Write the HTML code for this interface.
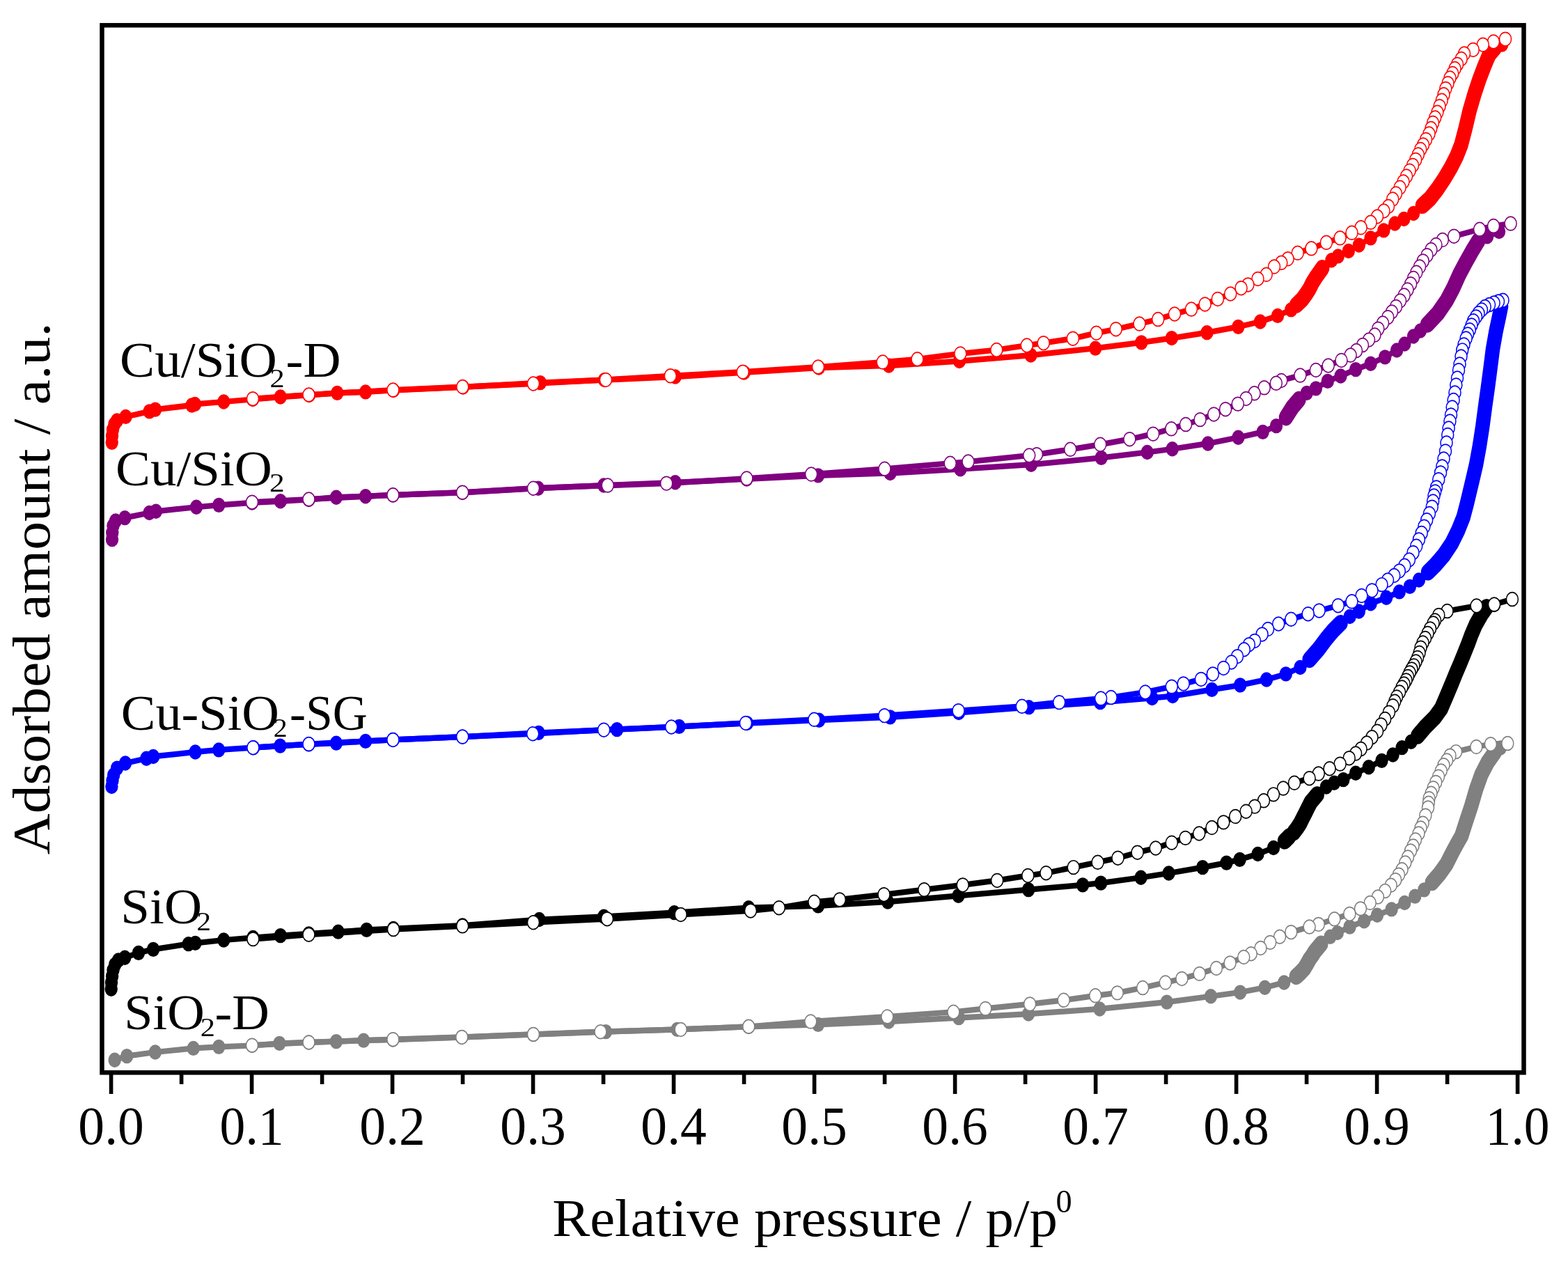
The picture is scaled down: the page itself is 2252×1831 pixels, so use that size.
<!DOCTYPE html>
<html><head><meta charset="utf-8"><title>Adsorption isotherms</title>
<style>html,body{margin:0;padding:0;background:#fff;overflow:hidden}svg{display:block}</style>
</head><body>
<svg width="2252" height="1831" viewBox="0 0 2252 1831">
<rect width="2252" height="1831" fill="#fff"/>
<g transform="scale(1 1.16)">
<polyline points="164.7,1312.3 182.2,1307.4 222.9,1302.6 277.7,1297.8 314.3,1296 362,1294.4 401.4,1291.7 443.5,1290.5 482.9,1289.3 522.2,1288.1 564.4,1287.1 663.3,1284.1 766,1280.7 870,1277.3 972.6,1274.5 1075.2,1271.1 1175,1268.4 1276.5,1264.7 1377,1260 1477.1,1255.2 1579.4,1249.1 1675.8,1240.6 1739,1233.4 1781.2,1228.5 1816.6,1222.6 1844.2,1216.4 1861.8,1208.9 1867.5,1204.3 1873.1,1199.2 1877,1193.5 1880.6,1187.9 1884.5,1183.2 1888.1,1178.2 1897.4,1168.5 1910.5,1159.7 1920.8,1154.8 1938.6,1147.5 1959.2,1140.3 1978,1133 1998.6,1125.8 2017.3,1117.7 2032.3,1109.6 2045.4,1101.6 2056.7,1092.6 2067.9,1081.3 2077.3,1070 2086,1055.2 2093,1044 2099,1034.9 2105.4,1017.7 2112.9,998.3 2120.2,976.7 2127.7,958.6 2136.4,944 2147,931 2155,925.9" fill="none" stroke="#808080" stroke-width="7.1" stroke-linejoin="round" stroke-linecap="round"/>
<polyline points="1861.8,1208.9 1867.5,1204.3 1873.1,1199.2 1877,1193.5 1880.6,1187.9 1884.5,1183.2 1888.1,1178.2 1897.4,1168.5" fill="none" stroke="#808080" stroke-width="20.5" stroke-linejoin="round" stroke-linecap="round"/>
<polyline points="2056.7,1092.6 2067.9,1081.3 2077.3,1070 2086,1055.2 2093,1044 2099,1034.9 2105.4,1017.7 2112.9,998.3 2120.2,976.7 2127.7,958.6 2136.4,944 2147,931" fill="none" stroke="#808080" stroke-width="20.5" stroke-linejoin="round" stroke-linecap="round"/>
<g fill="#808080"><circle cx="164.7" cy="1312.3" r="9.2"/><circle cx="182.2" cy="1307.4" r="9.2"/><circle cx="222.9" cy="1302.6" r="9.2"/><circle cx="277.7" cy="1297.8" r="9.2"/><circle cx="314.3" cy="1296" r="9.2"/><circle cx="362" cy="1294.4" r="9.2"/><circle cx="401.4" cy="1291.7" r="9.2"/><circle cx="443.5" cy="1290.5" r="9.2"/><circle cx="482.9" cy="1289.3" r="9.2"/><circle cx="522.2" cy="1288.1" r="9.2"/><circle cx="564.4" cy="1287.1" r="9.2"/><circle cx="663.3" cy="1284.1" r="9.2"/><circle cx="766" cy="1280.7" r="9.2"/><circle cx="870" cy="1277.3" r="9.2"/><circle cx="972.6" cy="1274.5" r="9.2"/><circle cx="1075.2" cy="1271.1" r="9.2"/><circle cx="1175" cy="1268.4" r="9.2"/><circle cx="1276.5" cy="1264.7" r="9.2"/><circle cx="1377" cy="1260" r="9.2"/><circle cx="1477.1" cy="1255.2" r="9.2"/><circle cx="1579.4" cy="1249.1" r="9.2"/><circle cx="1675.8" cy="1240.6" r="9.2"/><circle cx="1739" cy="1233.4" r="9.2"/><circle cx="1781.2" cy="1228.5" r="9.2"/><circle cx="1816.6" cy="1222.6" r="9.2"/><circle cx="1844.2" cy="1216.4" r="9.2"/><circle cx="1861.8" cy="1208.9" r="9.2"/><circle cx="1867.5" cy="1204.3" r="9.2"/><circle cx="1873.1" cy="1199.2" r="9.2"/><circle cx="1877" cy="1193.5" r="9.2"/><circle cx="1880.6" cy="1187.9" r="9.2"/><circle cx="1884.5" cy="1183.2" r="9.2"/><circle cx="1888.1" cy="1178.2" r="9.2"/><circle cx="1892.8" cy="1173.4" r="9.2"/><circle cx="1897.4" cy="1168.5" r="9.2"/><circle cx="1910.5" cy="1159.7" r="9.2"/><circle cx="1920.8" cy="1154.8" r="9.2"/><circle cx="1938.6" cy="1147.5" r="9.2"/><circle cx="1959.2" cy="1140.3" r="9.2"/><circle cx="1978" cy="1133" r="9.2"/><circle cx="1998.6" cy="1125.8" r="9.2"/><circle cx="2017.3" cy="1117.7" r="9.2"/><circle cx="2032.3" cy="1109.6" r="9.2"/><circle cx="2045.4" cy="1101.6" r="9.2"/><circle cx="2056.7" cy="1092.6" r="9.2"/><circle cx="2062.3" cy="1086.9" r="9.2"/><circle cx="2067.9" cy="1081.3" r="9.2"/><circle cx="2072.6" cy="1075.6" r="9.2"/><circle cx="2077.3" cy="1070" r="9.2"/><circle cx="2081.7" cy="1062.6" r="9.2"/><circle cx="2086" cy="1055.2" r="9.2"/><circle cx="2089.5" cy="1049.6" r="9.2"/><circle cx="2093" cy="1044" r="9.2"/><circle cx="2096" cy="1039.4" r="9.2"/><circle cx="2099" cy="1034.9" r="9.2"/><circle cx="2101.1" cy="1029.2" r="9.2"/><circle cx="2103.3" cy="1023.4" r="9.2"/><circle cx="2105.4" cy="1017.7" r="9.2"/><circle cx="2107.9" cy="1011.2" r="9.2"/><circle cx="2110.4" cy="1004.7" r="9.2"/><circle cx="2112.9" cy="998.3" r="9.2"/><circle cx="2115.3" cy="991.1" r="9.2"/><circle cx="2117.8" cy="983.9" r="9.2"/><circle cx="2120.2" cy="976.7" r="9.2"/><circle cx="2122.7" cy="970.7" r="9.2"/><circle cx="2125.2" cy="964.7" r="9.2"/><circle cx="2127.7" cy="958.6" r="9.2"/><circle cx="2132.1" cy="951.3" r="9.2"/><circle cx="2136.4" cy="944" r="9.2"/><circle cx="2141.7" cy="937.5" r="9.2"/><circle cx="2147" cy="931" r="9.2"/><circle cx="2155" cy="925.9" r="9.2"/></g>
<polyline points="362,1294.1 443.5,1290.5 564.4,1286.8 663.3,1284 766,1280.5 862.5,1277.3 977.7,1274.5 1075.3,1270.9 1164.3,1264.7 1274.3,1258.7 1369.4,1252.8 1415.3,1248.6 1479.1,1243 1527.7,1238.2 1573.2,1232.6 1604.7,1229.2 1641.2,1222.9 1673.8,1216.4 1697.4,1211.6 1722.7,1205.5 1746.9,1198.7 1766.6,1192.2 1786.3,1184.9 1796.7,1180.8 1810.5,1173.7 1824.2,1166.7 1838,1159.7 1854.3,1154 1880.6,1147.5 1893.7,1144.3 1916.5,1137.8 1938.3,1131.4 1954,1124.9 1967.7,1117.7 1978.9,1110.4 1989.2,1103.1 1997.7,1095.9 2004.2,1089.4 2008.9,1082.9 2013.6,1076.5 2018.3,1068.1 2022,1061.2 2026,1053.4 2029.5,1047.4 2033,1039.7 2037.5,1031.9 2040.5,1025 2043.6,1019.2 2047.3,1009.6 2051,999.9 2052.5,988.5 2055.5,982.1 2058.5,975.6 2062.2,968.5 2066,961.4 2069.7,954.3 2073.5,947.2 2078,941.4 2082.5,935.5 2091.1,930.7 2120.3,924.6 2140.9,921.3 2165.3,920.3" fill="none" stroke="#808080" stroke-width="7.1" stroke-linejoin="round" stroke-linecap="round"/>
<g fill="#fff" stroke="#808080" stroke-width="1.5"><circle cx="2165.3" cy="920.3" r="8.5"/><circle cx="2140.9" cy="921.3" r="8.5"/><circle cx="2120.3" cy="924.6" r="8.5"/><circle cx="2091.1" cy="930.7" r="8.5"/><circle cx="2082.5" cy="935.5" r="8.5"/><circle cx="2078" cy="941.4" r="8.5"/><circle cx="2073.5" cy="947.2" r="8.5"/><circle cx="2069.7" cy="954.3" r="8.5"/><circle cx="2066" cy="961.4" r="8.5"/><circle cx="2062.2" cy="968.5" r="8.5"/><circle cx="2058.5" cy="975.6" r="8.5"/><circle cx="2055.5" cy="982.1" r="8.5"/><circle cx="2052.5" cy="988.5" r="8.5"/><circle cx="2051.8" cy="994.2" r="8.5"/><circle cx="2051" cy="999.9" r="8.5"/><circle cx="2047.3" cy="1009.6" r="8.5"/><circle cx="2043.6" cy="1019.2" r="8.5"/><circle cx="2040.5" cy="1025" r="8.5"/><circle cx="2037.5" cy="1031.9" r="8.5"/><circle cx="2033" cy="1039.7" r="8.5"/><circle cx="2029.5" cy="1047.4" r="8.5"/><circle cx="2026" cy="1053.4" r="8.5"/><circle cx="2022" cy="1061.2" r="8.5"/><circle cx="2018.3" cy="1068.1" r="8.5"/><circle cx="2013.6" cy="1076.5" r="8.5"/><circle cx="2008.9" cy="1082.9" r="8.5"/><circle cx="2004.2" cy="1089.4" r="8.5"/><circle cx="1997.7" cy="1095.9" r="8.5"/><circle cx="1989.2" cy="1103.1" r="8.5"/><circle cx="1978.9" cy="1110.4" r="8.5"/><circle cx="1967.7" cy="1117.7" r="8.5"/><circle cx="1954" cy="1124.9" r="8.5"/><circle cx="1938.3" cy="1131.4" r="8.5"/><circle cx="1916.5" cy="1137.8" r="8.5"/><circle cx="1893.7" cy="1144.3" r="8.5"/><circle cx="1880.6" cy="1147.5" r="8.5"/><circle cx="1854.3" cy="1154" r="8.5"/><circle cx="1838" cy="1159.7" r="8.5"/><circle cx="1824.2" cy="1166.7" r="8.5"/><circle cx="1810.5" cy="1173.7" r="8.5"/><circle cx="1796.7" cy="1180.8" r="8.5"/><circle cx="1786.3" cy="1184.9" r="8.5"/><circle cx="1766.6" cy="1192.2" r="8.5"/><circle cx="1746.9" cy="1198.7" r="8.5"/><circle cx="1722.7" cy="1205.5" r="8.5"/><circle cx="1697.4" cy="1211.6" r="8.5"/><circle cx="1673.8" cy="1216.4" r="8.5"/><circle cx="1641.2" cy="1222.9" r="8.5"/><circle cx="1604.7" cy="1229.2" r="8.5"/><circle cx="1573.2" cy="1232.6" r="8.5"/><circle cx="1527.7" cy="1238.2" r="8.5"/><circle cx="1479.1" cy="1243" r="8.5"/><circle cx="1415.3" cy="1248.6" r="8.5"/><circle cx="1369.4" cy="1252.8" r="8.5"/><circle cx="1274.3" cy="1258.7" r="8.5"/><circle cx="1164.3" cy="1264.7" r="8.5"/><circle cx="1075.3" cy="1270.9" r="8.5"/><circle cx="977.7" cy="1274.5" r="8.5"/><circle cx="862.5" cy="1277.3" r="8.5"/><circle cx="766" cy="1280.5" r="8.5"/><circle cx="663.3" cy="1284" r="8.5"/><circle cx="564.4" cy="1286.8" r="8.5"/><circle cx="443.5" cy="1290.5" r="8.5"/><circle cx="362" cy="1294.1" r="8.5"/></g>
<polyline points="159.7,1224.4 160,1216.4 161.1,1208.6 162.5,1200.9 165.3,1194.1 170,1188.8 179.3,1185.6 199,1179.6 220.1,1175.3 270.7,1168.7 280.5,1167.5 321.3,1163.8 363.4,1160.8 402.8,1158.3 443.5,1156 485.7,1153.6 526.5,1151.2 565,1149.6 664.2,1145.7 774.5,1138.4 867.2,1134.7 968.4,1129.9 1075.2,1123.9 1175,1121.5 1275,1116.4 1376.5,1108.9 1477.1,1101.4 1555,1095.6 1581.1,1093.2 1638.6,1086.4 1678.6,1081 1727.2,1073.8 1761.5,1068.2 1780.6,1064.1 1806.5,1057.3 1829,1049.6 1845,1041.2 1852,1035.3 1858.1,1030.6 1863,1025 1867.4,1019.2 1871,1012.9 1874.9,1006.4 1878.5,1000 1882.4,993.4 1891.8,983.7 1904.9,974.1 1916.2,969.2 1929.3,965.2 1947.1,957.1 1965.8,949.8 1984.5,941.7 2000.5,934.5 2013.6,925.6 2026.7,918.3 2036.1,911 2047.3,899.7 2060.4,888.4 2069.8,877.2 2077,862.9 2084.5,847.4 2091,833.6 2097,821.6 2103,808.8 2108.5,797 2113.5,785.3 2119.5,773.3 2128,760.3 2135,751.7 2146,748.7" fill="none" stroke="#000000" stroke-width="7.1" stroke-linejoin="round" stroke-linecap="round"/>
<polyline points="1845,1041.2 1852,1035.3" fill="none" stroke="#000000" stroke-width="20.5" stroke-linejoin="round" stroke-linecap="round"/>
<polyline points="1858.1,1030.6 1863,1025 1867.4,1019.2 1871,1012.9 1874.9,1006.4 1878.5,1000 1882.4,993.4 1891.8,983.7" fill="none" stroke="#000000" stroke-width="20.5" stroke-linejoin="round" stroke-linecap="round"/>
<polyline points="2036.1,911 2047.3,899.7 2060.4,888.4 2069.8,877.2 2077,862.9 2084.5,847.4 2091,833.6 2097,821.6 2103,808.8 2108.5,797 2113.5,785.3 2119.5,773.3 2128,760.3 2135,751.7" fill="none" stroke="#000000" stroke-width="20.5" stroke-linejoin="round" stroke-linecap="round"/>
<g fill="#000000"><circle cx="159.7" cy="1224.4" r="9.2"/><circle cx="160" cy="1216.4" r="9.2"/><circle cx="161.1" cy="1208.6" r="9.2"/><circle cx="162.5" cy="1200.9" r="9.2"/><circle cx="165.3" cy="1194.1" r="9.2"/><circle cx="170" cy="1188.8" r="9.2"/><circle cx="179.3" cy="1185.6" r="9.2"/><circle cx="199" cy="1179.6" r="9.2"/><circle cx="220.1" cy="1175.3" r="9.2"/><circle cx="270.7" cy="1168.7" r="9.2"/><circle cx="280.5" cy="1167.5" r="9.2"/><circle cx="321.3" cy="1163.8" r="9.2"/><circle cx="363.4" cy="1160.8" r="9.2"/><circle cx="402.8" cy="1158.3" r="9.2"/><circle cx="443.5" cy="1156" r="9.2"/><circle cx="485.7" cy="1153.6" r="9.2"/><circle cx="526.5" cy="1151.2" r="9.2"/><circle cx="565" cy="1149.6" r="9.2"/><circle cx="664.2" cy="1145.7" r="9.2"/><circle cx="774.5" cy="1138.4" r="9.2"/><circle cx="867.2" cy="1134.7" r="9.2"/><circle cx="968.4" cy="1129.9" r="9.2"/><circle cx="1075.2" cy="1123.9" r="9.2"/><circle cx="1175" cy="1121.5" r="9.2"/><circle cx="1275" cy="1116.4" r="9.2"/><circle cx="1376.5" cy="1108.9" r="9.2"/><circle cx="1477.1" cy="1101.4" r="9.2"/><circle cx="1555" cy="1095.6" r="9.2"/><circle cx="1581.1" cy="1093.2" r="9.2"/><circle cx="1638.6" cy="1086.4" r="9.2"/><circle cx="1678.6" cy="1081" r="9.2"/><circle cx="1727.2" cy="1073.8" r="9.2"/><circle cx="1761.5" cy="1068.2" r="9.2"/><circle cx="1780.6" cy="1064.1" r="9.2"/><circle cx="1806.5" cy="1057.3" r="9.2"/><circle cx="1829" cy="1049.6" r="9.2"/><circle cx="1845" cy="1041.2" r="9.2"/><circle cx="1852" cy="1035.3" r="9.2"/><circle cx="1858.1" cy="1030.6" r="9.2"/><circle cx="1863" cy="1025" r="9.2"/><circle cx="1867.4" cy="1019.2" r="9.2"/><circle cx="1871" cy="1012.9" r="9.2"/><circle cx="1874.9" cy="1006.4" r="9.2"/><circle cx="1878.5" cy="1000" r="9.2"/><circle cx="1882.4" cy="993.4" r="9.2"/><circle cx="1887.1" cy="988.6" r="9.2"/><circle cx="1891.8" cy="983.7" r="9.2"/><circle cx="1904.9" cy="974.1" r="9.2"/><circle cx="1916.2" cy="969.2" r="9.2"/><circle cx="1929.3" cy="965.2" r="9.2"/><circle cx="1947.1" cy="957.1" r="9.2"/><circle cx="1965.8" cy="949.8" r="9.2"/><circle cx="1984.5" cy="941.7" r="9.2"/><circle cx="2000.5" cy="934.5" r="9.2"/><circle cx="2013.6" cy="925.6" r="9.2"/><circle cx="2026.7" cy="918.3" r="9.2"/><circle cx="2036.1" cy="911" r="9.2"/><circle cx="2041.7" cy="905.4" r="9.2"/><circle cx="2047.3" cy="899.7" r="9.2"/><circle cx="2053.8" cy="894.1" r="9.2"/><circle cx="2060.4" cy="888.4" r="9.2"/><circle cx="2065.1" cy="882.8" r="9.2"/><circle cx="2069.8" cy="877.2" r="9.2"/><circle cx="2073.4" cy="870" r="9.2"/><circle cx="2077" cy="862.9" r="9.2"/><circle cx="2080.8" cy="855.2" r="9.2"/><circle cx="2084.5" cy="847.4" r="9.2"/><circle cx="2087.8" cy="840.5" r="9.2"/><circle cx="2091" cy="833.6" r="9.2"/><circle cx="2094" cy="827.6" r="9.2"/><circle cx="2097" cy="821.6" r="9.2"/><circle cx="2100" cy="815.2" r="9.2"/><circle cx="2103" cy="808.8" r="9.2"/><circle cx="2105.8" cy="802.9" r="9.2"/><circle cx="2108.5" cy="797" r="9.2"/><circle cx="2111" cy="791.2" r="9.2"/><circle cx="2113.5" cy="785.3" r="9.2"/><circle cx="2116.5" cy="779.3" r="9.2"/><circle cx="2119.5" cy="773.3" r="9.2"/><circle cx="2123.8" cy="766.8" r="9.2"/><circle cx="2128" cy="760.3" r="9.2"/><circle cx="2131.5" cy="756" r="9.2"/><circle cx="2135" cy="751.7" r="9.2"/><circle cx="2146" cy="748.7" r="9.2"/></g>
<polyline points="363.4,1162.6 443.5,1157.1 565,1150.5 664.2,1146.4 766,1142 872,1137.7 977.7,1132.3 1078,1127.5 1118.8,1123.9 1169.4,1116.6 1205.9,1113.7 1269.5,1107.5 1327.3,1101.4 1382.7,1095.6 1432.1,1090 1476.3,1084 1502.4,1080.8 1541.7,1073.8 1576.6,1067.5 1605.5,1062.2 1633.6,1055.3 1659.8,1050 1682.8,1043.3 1702.5,1037.4 1722.2,1031.9 1740.5,1024.6 1757.3,1018 1774.2,1010.8 1789.6,1004.5 1802.1,998.4 1815,991.2 1829,983.5 1843,975.9 1859,969.2 1880.6,963.5 1893.7,957.8 1909.6,951.5 1924.6,945.8 1937.7,938.5 1947.1,932.8 1954.6,927.2 1963,919.9 1970.5,912.7 1978,905.4 1983.6,897.3 1989.2,890.1 1994.9,882 2000.5,873.9 2006,862.9 2010,856.9 2013.5,850.9 2016.5,846.6 2019.5,842.2 2022,837.5 2024.6,832.8 2027.5,828.4 2030.5,824.1 2033.5,819 2036,814.2 2038.5,808.2 2040.5,801.9 2043.5,795.7 2047,790.1 2050.5,784.1 2054,778.4 2058.5,771.6 2061,768.1 2066.3,761.6 2078.5,756.5 2120.6,750 2146,748.3 2171.9,741.9" fill="none" stroke="#000000" stroke-width="7.1" stroke-linejoin="round" stroke-linecap="round"/>
<g fill="#fff" stroke="#000000" stroke-width="1.5"><circle cx="2171.9" cy="741.9" r="8.5"/><circle cx="2146" cy="748.3" r="8.5"/><circle cx="2120.6" cy="750" r="8.5"/><circle cx="2078.5" cy="756.5" r="8.5"/><circle cx="2066.3" cy="761.6" r="8.5"/><circle cx="2061" cy="768.1" r="8.5"/><circle cx="2058.5" cy="771.6" r="8.5"/><circle cx="2054" cy="778.4" r="8.5"/><circle cx="2050.5" cy="784.1" r="8.5"/><circle cx="2047" cy="790.1" r="8.5"/><circle cx="2043.5" cy="795.7" r="8.5"/><circle cx="2040.5" cy="801.9" r="8.5"/><circle cx="2038.5" cy="808.2" r="8.5"/><circle cx="2036" cy="814.2" r="8.5"/><circle cx="2033.5" cy="819" r="8.5"/><circle cx="2030.5" cy="824.1" r="8.5"/><circle cx="2027.5" cy="828.4" r="8.5"/><circle cx="2024.6" cy="832.8" r="8.5"/><circle cx="2022" cy="837.5" r="8.5"/><circle cx="2019.5" cy="842.2" r="8.5"/><circle cx="2016.5" cy="846.6" r="8.5"/><circle cx="2013.5" cy="850.9" r="8.5"/><circle cx="2010" cy="856.9" r="8.5"/><circle cx="2006" cy="862.9" r="8.5"/><circle cx="2003.2" cy="868.4" r="8.5"/><circle cx="2000.5" cy="873.9" r="8.5"/><circle cx="1994.9" cy="882" r="8.5"/><circle cx="1989.2" cy="890.1" r="8.5"/><circle cx="1983.6" cy="897.3" r="8.5"/><circle cx="1978" cy="905.4" r="8.5"/><circle cx="1970.5" cy="912.7" r="8.5"/><circle cx="1963" cy="919.9" r="8.5"/><circle cx="1954.6" cy="927.2" r="8.5"/><circle cx="1947.1" cy="932.8" r="8.5"/><circle cx="1937.7" cy="938.5" r="8.5"/><circle cx="1924.6" cy="945.8" r="8.5"/><circle cx="1909.6" cy="951.5" r="8.5"/><circle cx="1893.7" cy="957.8" r="8.5"/><circle cx="1880.6" cy="963.5" r="8.5"/><circle cx="1859" cy="969.2" r="8.5"/><circle cx="1843" cy="975.9" r="8.5"/><circle cx="1829" cy="983.5" r="8.5"/><circle cx="1815" cy="991.2" r="8.5"/><circle cx="1802.1" cy="998.4" r="8.5"/><circle cx="1789.6" cy="1004.5" r="8.5"/><circle cx="1774.2" cy="1010.8" r="8.5"/><circle cx="1757.3" cy="1018" r="8.5"/><circle cx="1740.5" cy="1024.6" r="8.5"/><circle cx="1722.2" cy="1031.9" r="8.5"/><circle cx="1702.5" cy="1037.4" r="8.5"/><circle cx="1682.8" cy="1043.3" r="8.5"/><circle cx="1659.8" cy="1050" r="8.5"/><circle cx="1633.6" cy="1055.3" r="8.5"/><circle cx="1605.5" cy="1062.2" r="8.5"/><circle cx="1576.6" cy="1067.5" r="8.5"/><circle cx="1541.7" cy="1073.8" r="8.5"/><circle cx="1502.4" cy="1080.8" r="8.5"/><circle cx="1476.3" cy="1084" r="8.5"/><circle cx="1432.1" cy="1090" r="8.5"/><circle cx="1382.7" cy="1095.6" r="8.5"/><circle cx="1327.3" cy="1101.4" r="8.5"/><circle cx="1269.5" cy="1107.5" r="8.5"/><circle cx="1205.9" cy="1113.7" r="8.5"/><circle cx="1169.4" cy="1116.6" r="8.5"/><circle cx="1118.8" cy="1123.9" r="8.5"/><circle cx="1078" cy="1127.5" r="8.5"/><circle cx="977.7" cy="1132.3" r="8.5"/><circle cx="872" cy="1137.7" r="8.5"/><circle cx="766" cy="1142" r="8.5"/><circle cx="664.2" cy="1146.4" r="8.5"/><circle cx="565" cy="1150.5" r="8.5"/><circle cx="443.5" cy="1157.1" r="8.5"/><circle cx="363.4" cy="1162.6" r="8.5"/></g>
<polyline points="160.4,973.7 161.5,966.4 163.2,959.5 168.1,951 180,944.8 210.3,939 220.1,936.6 280.5,931 314.2,928.4 364,925.6 402.4,923.4 443.5,921.4 482.9,920 525,917.6 564.4,915.9 664.2,912.2 773.6,907.2 886.1,903.1 975.4,899.5 1073,895.3 1176.4,891.6 1278.5,887.8 1377,882.3 1477.7,875.6 1580.2,869.5 1654.7,864.2 1684.2,861.7 1740.5,853.8 1781.2,848.2 1819,841.4 1846.8,834.4 1867.4,826.3 1880.6,816.6 1893.7,803.7 1904.9,790.8 1914.3,781.1 1925.5,771.4 1938.6,763.4 1951.8,756.9 1968.6,747.2 1991.1,739.9 2009.8,732.7 2024.8,726.2 2037.9,718.1 2051,708.4 2062.3,698.7 2073.5,687.4 2084.8,672.9 2094.1,656.7 2101.6,640.6 2106.5,624.5 2109.5,613.8 2114.5,595.7 2120,575.3 2125,551.7 2129.3,527.6 2133,503.4 2136.8,480.2 2140.5,456 2144,432.2 2148.5,410.3 2153,392.2 2156,379.3" fill="none" stroke="#0000ff" stroke-width="7.1" stroke-linejoin="round" stroke-linecap="round"/>
<polyline points="1880.6,816.6 1893.7,803.7 1904.9,790.8 1914.3,781.1 1925.5,771.4" fill="none" stroke="#0000ff" stroke-width="20.5" stroke-linejoin="round" stroke-linecap="round"/>
<polyline points="2051,708.4 2062.3,698.7 2073.5,687.4 2084.8,672.9 2094.1,656.7 2101.6,640.6 2106.5,624.5 2109.5,613.8 2114.5,595.7 2120,575.3 2125,551.7 2129.3,527.6 2133,503.4 2136.8,480.2 2140.5,456 2144,432.2 2148.5,410.3 2153,392.2 2156,379.3" fill="none" stroke="#0000ff" stroke-width="20.5" stroke-linejoin="round" stroke-linecap="round"/>
<g fill="#0000ff"><circle cx="160.4" cy="973.7" r="9.2"/><circle cx="161.5" cy="966.4" r="9.2"/><circle cx="163.2" cy="959.5" r="9.2"/><circle cx="168.1" cy="951" r="9.2"/><circle cx="180" cy="944.8" r="9.2"/><circle cx="210.3" cy="939" r="9.2"/><circle cx="220.1" cy="936.6" r="9.2"/><circle cx="280.5" cy="931" r="9.2"/><circle cx="314.2" cy="928.4" r="9.2"/><circle cx="364" cy="925.6" r="9.2"/><circle cx="402.4" cy="923.4" r="9.2"/><circle cx="443.5" cy="921.4" r="9.2"/><circle cx="482.9" cy="920" r="9.2"/><circle cx="525" cy="917.6" r="9.2"/><circle cx="564.4" cy="915.9" r="9.2"/><circle cx="664.2" cy="912.2" r="9.2"/><circle cx="773.6" cy="907.2" r="9.2"/><circle cx="886.1" cy="903.1" r="9.2"/><circle cx="975.4" cy="899.5" r="9.2"/><circle cx="1073" cy="895.3" r="9.2"/><circle cx="1176.4" cy="891.6" r="9.2"/><circle cx="1278.5" cy="887.8" r="9.2"/><circle cx="1377" cy="882.3" r="9.2"/><circle cx="1477.7" cy="875.6" r="9.2"/><circle cx="1580.2" cy="869.5" r="9.2"/><circle cx="1654.7" cy="864.2" r="9.2"/><circle cx="1684.2" cy="861.7" r="9.2"/><circle cx="1740.5" cy="853.8" r="9.2"/><circle cx="1781.2" cy="848.2" r="9.2"/><circle cx="1819" cy="841.4" r="9.2"/><circle cx="1846.8" cy="834.4" r="9.2"/><circle cx="1867.4" cy="826.3" r="9.2"/><circle cx="1880.6" cy="816.6" r="9.2"/><circle cx="1885" cy="812.3" r="9.2"/><circle cx="1889.3" cy="808" r="9.2"/><circle cx="1893.7" cy="803.7" r="9.2"/><circle cx="1899.3" cy="797.2" r="9.2"/><circle cx="1904.9" cy="790.8" r="9.2"/><circle cx="1909.6" cy="785.9" r="9.2"/><circle cx="1914.3" cy="781.1" r="9.2"/><circle cx="1919.9" cy="776.2" r="9.2"/><circle cx="1925.5" cy="771.4" r="9.2"/><circle cx="1938.6" cy="763.4" r="9.2"/><circle cx="1951.8" cy="756.9" r="9.2"/><circle cx="1968.6" cy="747.2" r="9.2"/><circle cx="1991.1" cy="739.9" r="9.2"/><circle cx="2009.8" cy="732.7" r="9.2"/><circle cx="2024.8" cy="726.2" r="9.2"/><circle cx="2037.9" cy="718.1" r="9.2"/><circle cx="2051" cy="708.4" r="9.2"/><circle cx="2056.7" cy="703.6" r="9.2"/><circle cx="2062.3" cy="698.7" r="9.2"/><circle cx="2067.9" cy="693.1" r="9.2"/><circle cx="2073.5" cy="687.4" r="9.2"/><circle cx="2077.3" cy="682.6" r="9.2"/><circle cx="2081" cy="677.8" r="9.2"/><circle cx="2084.8" cy="672.9" r="9.2"/><circle cx="2087.9" cy="667.5" r="9.2"/><circle cx="2091" cy="662.1" r="9.2"/><circle cx="2094.1" cy="656.7" r="9.2"/><circle cx="2096.6" cy="651.4" r="9.2"/><circle cx="2099.1" cy="646" r="9.2"/><circle cx="2101.6" cy="640.6" r="9.2"/><circle cx="2104.1" cy="632.5" r="9.2"/><circle cx="2106.5" cy="624.5" r="9.2"/><circle cx="2108" cy="619.1" r="9.2"/><circle cx="2109.5" cy="613.8" r="9.2"/><circle cx="2111.2" cy="607.8" r="9.2"/><circle cx="2112.8" cy="601.7" r="9.2"/><circle cx="2114.5" cy="595.7" r="9.2"/><circle cx="2116.3" cy="588.9" r="9.2"/><circle cx="2118.2" cy="582.1" r="9.2"/><circle cx="2120" cy="575.3" r="9.2"/><circle cx="2121.7" cy="567.4" r="9.2"/><circle cx="2123.3" cy="559.6" r="9.2"/><circle cx="2125" cy="551.7" r="9.2"/><circle cx="2126.1" cy="545.7" r="9.2"/><circle cx="2127.2" cy="539.7" r="9.2"/><circle cx="2128.2" cy="533.6" r="9.2"/><circle cx="2129.3" cy="527.6" r="9.2"/><circle cx="2130.5" cy="519.5" r="9.2"/><circle cx="2131.8" cy="511.5" r="9.2"/><circle cx="2133" cy="503.4" r="9.2"/><circle cx="2134.3" cy="495.7" r="9.2"/><circle cx="2135.5" cy="487.9" r="9.2"/><circle cx="2136.8" cy="480.2" r="9.2"/><circle cx="2138" cy="472.1" r="9.2"/><circle cx="2139.3" cy="464.1" r="9.2"/><circle cx="2140.5" cy="456" r="9.2"/><circle cx="2141.7" cy="448.1" r="9.2"/><circle cx="2142.8" cy="440.2" r="9.2"/><circle cx="2144" cy="432.2" r="9.2"/><circle cx="2145.5" cy="424.9" r="9.2"/><circle cx="2147" cy="417.6" r="9.2"/><circle cx="2148.5" cy="410.3" r="9.2"/><circle cx="2150" cy="404.3" r="9.2"/><circle cx="2151.5" cy="398.3" r="9.2"/><circle cx="2153" cy="392.2" r="9.2"/><circle cx="2154.5" cy="385.8" r="9.2"/><circle cx="2156" cy="379.3" r="9.2"/></g>
<polyline points="363.4,925.6 443.5,921.2 564.4,915.9 664.2,912.1 765.2,908.4 867.2,903.6 964.2,900 1071,895.2 1169.4,890.8 1270.3,885.9 1376.5,879.9 1467.8,874.4 1521.2,869.5 1581.1,864.7 1595.7,863.4 1644.9,856.9 1682.8,850.1 1699.7,846.5 1725,840.9 1741.9,834.4 1757.3,827.1 1768.6,819.8 1777,812.6 1786.8,804.1 1793.9,798 1802,793.5 1812.6,785.3 1821,778.9 1836.2,772.4 1854.3,766.6 1878.7,760.1 1894.6,756 1921.8,749.7 1941.5,744.7 1955.5,737.5 1970.5,731 1984.5,723.8 1993,718.1 2002.3,712.5 2009.8,706.8 2017.3,700.3 2023.9,693.1 2029.5,684.2 2034.2,676.1 2037.9,668 2041.7,660 2045.4,651.9 2049.2,643.8 2052.9,635.8 2056.7,627.7 2059.5,613.8 2063,603.4 2066.2,593.7 2069,585.3 2071.3,577.6 2073.5,568.1 2076,558.6 2077.5,548.3 2079.2,538.4 2080.6,530.2 2082.4,521.6 2084,513.8 2085.7,504.3 2087.6,495.3 2089.5,486.2 2091.3,476.7 2093,468.1 2095,458.3 2096.5,450.9 2098.5,441.4 2100.2,433.5 2102.5,426.7 2105.6,419 2108,413.8 2110.8,408.4 2113.5,402.6 2116.1,397.2 2120,392.2 2123.5,387.8 2128,383.6 2132.7,379.8 2139,377.2 2145.6,375 2152,373.3 2158.5,371.8" fill="none" stroke="#0000ff" stroke-width="7.1" stroke-linejoin="round" stroke-linecap="round"/>
<g fill="#fff" stroke="#0000ff" stroke-width="1.5"><circle cx="2158.5" cy="371.8" r="8.5"/><circle cx="2152" cy="373.3" r="8.5"/><circle cx="2145.6" cy="375" r="8.5"/><circle cx="2139" cy="377.2" r="8.5"/><circle cx="2132.7" cy="379.8" r="8.5"/><circle cx="2128" cy="383.6" r="8.5"/><circle cx="2123.5" cy="387.8" r="8.5"/><circle cx="2120" cy="392.2" r="8.5"/><circle cx="2116.1" cy="397.2" r="8.5"/><circle cx="2113.5" cy="402.6" r="8.5"/><circle cx="2110.8" cy="408.4" r="8.5"/><circle cx="2108" cy="413.8" r="8.5"/><circle cx="2105.6" cy="419" r="8.5"/><circle cx="2102.5" cy="426.7" r="8.5"/><circle cx="2100.2" cy="433.5" r="8.5"/><circle cx="2098.5" cy="441.4" r="8.5"/><circle cx="2096.5" cy="450.9" r="8.5"/><circle cx="2095" cy="458.3" r="8.5"/><circle cx="2093" cy="468.1" r="8.5"/><circle cx="2091.3" cy="476.7" r="8.5"/><circle cx="2089.5" cy="486.2" r="8.5"/><circle cx="2087.6" cy="495.3" r="8.5"/><circle cx="2085.7" cy="504.3" r="8.5"/><circle cx="2084" cy="513.8" r="8.5"/><circle cx="2082.4" cy="521.6" r="8.5"/><circle cx="2080.6" cy="530.2" r="8.5"/><circle cx="2079.2" cy="538.4" r="8.5"/><circle cx="2077.5" cy="548.3" r="8.5"/><circle cx="2076" cy="558.6" r="8.5"/><circle cx="2073.5" cy="568.1" r="8.5"/><circle cx="2071.3" cy="577.6" r="8.5"/><circle cx="2069" cy="585.3" r="8.5"/><circle cx="2066.2" cy="593.7" r="8.5"/><circle cx="2063" cy="603.4" r="8.5"/><circle cx="2061.2" cy="608.6" r="8.5"/><circle cx="2059.5" cy="613.8" r="8.5"/><circle cx="2058.1" cy="620.7" r="8.5"/><circle cx="2056.7" cy="627.7" r="8.5"/><circle cx="2052.9" cy="635.8" r="8.5"/><circle cx="2049.2" cy="643.8" r="8.5"/><circle cx="2045.4" cy="651.9" r="8.5"/><circle cx="2041.7" cy="660" r="8.5"/><circle cx="2037.9" cy="668" r="8.5"/><circle cx="2034.2" cy="676.1" r="8.5"/><circle cx="2029.5" cy="684.2" r="8.5"/><circle cx="2023.9" cy="693.1" r="8.5"/><circle cx="2017.3" cy="700.3" r="8.5"/><circle cx="2009.8" cy="706.8" r="8.5"/><circle cx="2002.3" cy="712.5" r="8.5"/><circle cx="1993" cy="718.1" r="8.5"/><circle cx="1984.5" cy="723.8" r="8.5"/><circle cx="1970.5" cy="731" r="8.5"/><circle cx="1955.5" cy="737.5" r="8.5"/><circle cx="1941.5" cy="744.7" r="8.5"/><circle cx="1921.8" cy="749.7" r="8.5"/><circle cx="1894.6" cy="756" r="8.5"/><circle cx="1878.7" cy="760.1" r="8.5"/><circle cx="1854.3" cy="766.6" r="8.5"/><circle cx="1836.2" cy="772.4" r="8.5"/><circle cx="1821" cy="778.9" r="8.5"/><circle cx="1812.6" cy="785.3" r="8.5"/><circle cx="1802" cy="793.5" r="8.5"/><circle cx="1793.9" cy="798" r="8.5"/><circle cx="1786.8" cy="804.1" r="8.5"/><circle cx="1777" cy="812.6" r="8.5"/><circle cx="1768.6" cy="819.8" r="8.5"/><circle cx="1757.3" cy="827.1" r="8.5"/><circle cx="1741.9" cy="834.4" r="8.5"/><circle cx="1725" cy="840.9" r="8.5"/><circle cx="1699.7" cy="846.5" r="8.5"/><circle cx="1682.8" cy="850.1" r="8.5"/><circle cx="1644.9" cy="856.9" r="8.5"/><circle cx="1595.7" cy="863.4" r="8.5"/><circle cx="1581.1" cy="864.7" r="8.5"/><circle cx="1521.2" cy="869.5" r="8.5"/><circle cx="1467.8" cy="874.4" r="8.5"/><circle cx="1376.5" cy="879.9" r="8.5"/><circle cx="1270.3" cy="885.9" r="8.5"/><circle cx="1169.4" cy="890.8" r="8.5"/><circle cx="1071" cy="895.2" r="8.5"/><circle cx="964.2" cy="900" r="8.5"/><circle cx="867.2" cy="903.6" r="8.5"/><circle cx="765.2" cy="908.4" r="8.5"/><circle cx="664.2" cy="912.1" r="8.5"/><circle cx="564.4" cy="915.9" r="8.5"/><circle cx="443.5" cy="921.2" r="8.5"/><circle cx="363.4" cy="925.6" r="8.5"/></g>
<polyline points="161,667.8 161.3,659.5 162.5,650.9 166,644.8 179.3,641.1 214.5,634.9 224,633 282,627.8 314.3,625.3 362,622.4 402.8,620.5 443.5,618.5 482.9,615.7 525,614.4 564.4,612.9 664.2,609.9 773,604.5 867.2,600.9 969.8,597.2 1072.4,593.1 1175,588.7 1278.5,585.8 1379.3,580.8 1481,575.2 1581.7,566.7 1647.7,559.9 1683.7,555.8 1734.8,549.1 1778.4,541.6 1813.7,534.8 1833,527.3 1846.9,516.8 1856.2,504.2 1865.6,494.6 1876.8,486.5 1889.9,480.9 1906.8,471.9 1925.5,465.5 1947.1,457.4 1968.6,450.2 1989.2,442.1 2006.1,433.6 2017.3,425.9 2030,416.4 2040,409.5 2050,401.7 2065,387.9 2078,371.6 2087,356.9 2096,339.7 2105,325 2114,311.2 2123.5,297.8 2136,292.9 2153,286.7" fill="none" stroke="#800080" stroke-width="7.1" stroke-linejoin="round" stroke-linecap="round"/>
<polyline points="1846.9,516.8 1856.2,504.2 1865.6,494.6" fill="none" stroke="#800080" stroke-width="20.5" stroke-linejoin="round" stroke-linecap="round"/>
<polyline points="2050,401.7 2065,387.9 2078,371.6 2087,356.9 2096,339.7 2105,325 2114,311.2 2123.5,297.8" fill="none" stroke="#800080" stroke-width="20.5" stroke-linejoin="round" stroke-linecap="round"/>
<g fill="#800080"><circle cx="161" cy="667.8" r="9.2"/><circle cx="161.3" cy="659.5" r="9.2"/><circle cx="162.5" cy="650.9" r="9.2"/><circle cx="166" cy="644.8" r="9.2"/><circle cx="179.3" cy="641.1" r="9.2"/><circle cx="214.5" cy="634.9" r="9.2"/><circle cx="224" cy="633" r="9.2"/><circle cx="282" cy="627.8" r="9.2"/><circle cx="314.3" cy="625.3" r="9.2"/><circle cx="362" cy="622.4" r="9.2"/><circle cx="402.8" cy="620.5" r="9.2"/><circle cx="443.5" cy="618.5" r="9.2"/><circle cx="482.9" cy="615.7" r="9.2"/><circle cx="525" cy="614.4" r="9.2"/><circle cx="564.4" cy="612.9" r="9.2"/><circle cx="664.2" cy="609.9" r="9.2"/><circle cx="773" cy="604.5" r="9.2"/><circle cx="867.2" cy="600.9" r="9.2"/><circle cx="969.8" cy="597.2" r="9.2"/><circle cx="1072.4" cy="593.1" r="9.2"/><circle cx="1175" cy="588.7" r="9.2"/><circle cx="1278.5" cy="585.8" r="9.2"/><circle cx="1379.3" cy="580.8" r="9.2"/><circle cx="1481" cy="575.2" r="9.2"/><circle cx="1581.7" cy="566.7" r="9.2"/><circle cx="1647.7" cy="559.9" r="9.2"/><circle cx="1683.7" cy="555.8" r="9.2"/><circle cx="1734.8" cy="549.1" r="9.2"/><circle cx="1778.4" cy="541.6" r="9.2"/><circle cx="1813.7" cy="534.8" r="9.2"/><circle cx="1833" cy="527.3" r="9.2"/><circle cx="1846.9" cy="516.8" r="9.2"/><circle cx="1851.6" cy="510.5" r="9.2"/><circle cx="1856.2" cy="504.2" r="9.2"/><circle cx="1860.9" cy="499.4" r="9.2"/><circle cx="1865.6" cy="494.6" r="9.2"/><circle cx="1876.8" cy="486.5" r="9.2"/><circle cx="1889.9" cy="480.9" r="9.2"/><circle cx="1906.8" cy="471.9" r="9.2"/><circle cx="1925.5" cy="465.5" r="9.2"/><circle cx="1947.1" cy="457.4" r="9.2"/><circle cx="1968.6" cy="450.2" r="9.2"/><circle cx="1989.2" cy="442.1" r="9.2"/><circle cx="2006.1" cy="433.6" r="9.2"/><circle cx="2017.3" cy="425.9" r="9.2"/><circle cx="2030" cy="416.4" r="9.2"/><circle cx="2040" cy="409.5" r="9.2"/><circle cx="2050" cy="401.7" r="9.2"/><circle cx="2055" cy="397.1" r="9.2"/><circle cx="2060" cy="392.5" r="9.2"/><circle cx="2065" cy="387.9" r="9.2"/><circle cx="2069.3" cy="382.5" r="9.2"/><circle cx="2073.7" cy="377" r="9.2"/><circle cx="2078" cy="371.6" r="9.2"/><circle cx="2082.5" cy="364.2" r="9.2"/><circle cx="2087" cy="356.9" r="9.2"/><circle cx="2090" cy="351.1" r="9.2"/><circle cx="2093" cy="345.4" r="9.2"/><circle cx="2096" cy="339.7" r="9.2"/><circle cx="2100.5" cy="332.3" r="9.2"/><circle cx="2105" cy="325" r="9.2"/><circle cx="2109.5" cy="318.1" r="9.2"/><circle cx="2114" cy="311.2" r="9.2"/><circle cx="2118.8" cy="304.5" r="9.2"/><circle cx="2123.5" cy="297.8" r="9.2"/><circle cx="2136" cy="292.9" r="9.2"/><circle cx="2153" cy="286.7" r="9.2"/></g>
<polyline points="362,621.7 443.5,618.1 564.4,612.8 664.2,609.6 766,604.5 872.8,600.9 957.2,598.4 1072.4,592.3 1165.1,587.1 1270.5,580.4 1364.7,573.5 1390.5,571.6 1478.2,563.8 1488.9,562.6 1537.2,556.3 1580.2,550.3 1622.4,543.7 1656.1,537.2 1682.3,530.9 1703,525.5 1723.6,519.5 1743.3,512.9 1760.1,506.6 1777.8,500.1 1789.6,493.5 1801.6,486.9 1815.7,480 1832.8,474.4 1840.3,471.1 1867.4,464.7 1889.9,458.2 1907.7,452.6 1926.5,446.1 1939.6,439.7 1948,434.1 1957,427.2 1966,420.7 1974.5,414.7 1979.3,407 1986,400 1993.3,392.8 1999,386.2 2005,379.7 2011,372.4 2016.7,365.6 2021.5,358.6 2026.1,351.5 2030,344.4 2034.3,337.3 2039,330.2 2043.7,323.2 2049.5,316.1 2055.4,309.1 2062.4,303 2071.8,297 2088.2,292.4 2125.1,283.9 2145,279.8 2169.6,276.8" fill="none" stroke="#800080" stroke-width="7.1" stroke-linejoin="round" stroke-linecap="round"/>
<g fill="#fff" stroke="#800080" stroke-width="1.5"><circle cx="2169.6" cy="276.8" r="8.5"/><circle cx="2145" cy="279.8" r="8.5"/><circle cx="2125.1" cy="283.9" r="8.5"/><circle cx="2088.2" cy="292.4" r="8.5"/><circle cx="2071.8" cy="297" r="8.5"/><circle cx="2062.4" cy="303" r="8.5"/><circle cx="2055.4" cy="309.1" r="8.5"/><circle cx="2049.5" cy="316.1" r="8.5"/><circle cx="2043.7" cy="323.2" r="8.5"/><circle cx="2039" cy="330.2" r="8.5"/><circle cx="2034.3" cy="337.3" r="8.5"/><circle cx="2030" cy="344.4" r="8.5"/><circle cx="2026.1" cy="351.5" r="8.5"/><circle cx="2021.5" cy="358.6" r="8.5"/><circle cx="2016.7" cy="365.6" r="8.5"/><circle cx="2011" cy="372.4" r="8.5"/><circle cx="2005" cy="379.7" r="8.5"/><circle cx="1999" cy="386.2" r="8.5"/><circle cx="1993.3" cy="392.8" r="8.5"/><circle cx="1986" cy="400" r="8.5"/><circle cx="1979.3" cy="407" r="8.5"/><circle cx="1974.5" cy="414.7" r="8.5"/><circle cx="1966" cy="420.7" r="8.5"/><circle cx="1957" cy="427.2" r="8.5"/><circle cx="1948" cy="434.1" r="8.5"/><circle cx="1939.6" cy="439.7" r="8.5"/><circle cx="1926.5" cy="446.1" r="8.5"/><circle cx="1907.7" cy="452.6" r="8.5"/><circle cx="1889.9" cy="458.2" r="8.5"/><circle cx="1867.4" cy="464.7" r="8.5"/><circle cx="1840.3" cy="471.1" r="8.5"/><circle cx="1832.8" cy="474.4" r="8.5"/><circle cx="1815.7" cy="480" r="8.5"/><circle cx="1801.6" cy="486.9" r="8.5"/><circle cx="1789.6" cy="493.5" r="8.5"/><circle cx="1777.8" cy="500.1" r="8.5"/><circle cx="1760.1" cy="506.6" r="8.5"/><circle cx="1743.3" cy="512.9" r="8.5"/><circle cx="1723.6" cy="519.5" r="8.5"/><circle cx="1703" cy="525.5" r="8.5"/><circle cx="1682.3" cy="530.9" r="8.5"/><circle cx="1656.1" cy="537.2" r="8.5"/><circle cx="1622.4" cy="543.7" r="8.5"/><circle cx="1580.2" cy="550.3" r="8.5"/><circle cx="1537.2" cy="556.3" r="8.5"/><circle cx="1488.9" cy="562.6" r="8.5"/><circle cx="1478.2" cy="563.8" r="8.5"/><circle cx="1390.5" cy="571.6" r="8.5"/><circle cx="1364.7" cy="573.5" r="8.5"/><circle cx="1270.5" cy="580.4" r="8.5"/><circle cx="1165.1" cy="587.1" r="8.5"/><circle cx="1072.4" cy="592.3" r="8.5"/><circle cx="957.2" cy="598.4" r="8.5"/><circle cx="872.8" cy="600.9" r="8.5"/><circle cx="766" cy="604.5" r="8.5"/><circle cx="664.2" cy="609.6" r="8.5"/><circle cx="564.4" cy="612.8" r="8.5"/><circle cx="443.5" cy="618.1" r="8.5"/><circle cx="362" cy="621.7" r="8.5"/></g>
<polyline points="160.7,547.7 161,539.7 162,531.9 164.5,525 168,520.7 180.5,515.9 214.7,509.4 223.1,507 275.5,501.7 280,500.4 321.3,497.4 363,494.4 402.8,491.4 444,489.2 484.3,486.5 525,485.3 565,483.2 665,479.3 775.9,473.8 868,470.3 969.8,466.4 1068.6,461.2 1176,455.2 1276.5,452.6 1377.9,447 1480.5,439.7 1573.2,431.2 1639.3,424 1682.8,418.6 1733.4,411.8 1778.4,404.6 1810,398.3 1835,390.9 1854.3,383.5 1862,377.6 1870.3,370.6 1876,363.8 1880.6,357.7 1885,350 1890,343.1 1899.3,331.8 1912.4,322.2 1921.8,317.2 1936.8,310.8 1951.8,303.5 1968.6,294.7 1987.3,285.3 2003.4,276.7 2016.3,271.1 2030,264.2 2042.9,254.5 2054.2,245.4 2064.7,233.6 2074.4,221.1 2084,207.2 2092.1,193.3 2098.5,179.3 2104.5,159.5 2110.8,136.6 2117.8,115.9 2124.8,97.8 2131.8,82 2138.9,67.5 2147.3,59 2157.1,55.3" fill="none" stroke="#ff0000" stroke-width="7.1" stroke-linejoin="round" stroke-linecap="round"/>
<polyline points="1862,377.6 1870.3,370.6 1876,363.8 1880.6,357.7 1885,350 1890,343.1 1899.3,331.8" fill="none" stroke="#ff0000" stroke-width="20.5" stroke-linejoin="round" stroke-linecap="round"/>
<polyline points="2042.9,254.5 2054.2,245.4 2064.7,233.6 2074.4,221.1 2084,207.2 2092.1,193.3 2098.5,179.3 2104.5,159.5 2110.8,136.6 2117.8,115.9 2124.8,97.8 2131.8,82 2138.9,67.5 2147.3,59" fill="none" stroke="#ff0000" stroke-width="20.5" stroke-linejoin="round" stroke-linecap="round"/>
<g fill="#ff0000"><circle cx="160.7" cy="547.7" r="9.2"/><circle cx="161" cy="539.7" r="9.2"/><circle cx="162" cy="531.9" r="9.2"/><circle cx="164.5" cy="525" r="9.2"/><circle cx="168" cy="520.7" r="9.2"/><circle cx="180.5" cy="515.9" r="9.2"/><circle cx="214.7" cy="509.4" r="9.2"/><circle cx="223.1" cy="507" r="9.2"/><circle cx="275.5" cy="501.7" r="9.2"/><circle cx="280" cy="500.4" r="9.2"/><circle cx="321.3" cy="497.4" r="9.2"/><circle cx="363" cy="494.4" r="9.2"/><circle cx="402.8" cy="491.4" r="9.2"/><circle cx="444" cy="489.2" r="9.2"/><circle cx="484.3" cy="486.5" r="9.2"/><circle cx="525" cy="485.3" r="9.2"/><circle cx="565" cy="483.2" r="9.2"/><circle cx="665" cy="479.3" r="9.2"/><circle cx="775.9" cy="473.8" r="9.2"/><circle cx="868" cy="470.3" r="9.2"/><circle cx="969.8" cy="466.4" r="9.2"/><circle cx="1068.6" cy="461.2" r="9.2"/><circle cx="1176" cy="455.2" r="9.2"/><circle cx="1276.5" cy="452.6" r="9.2"/><circle cx="1377.9" cy="447" r="9.2"/><circle cx="1480.5" cy="439.7" r="9.2"/><circle cx="1573.2" cy="431.2" r="9.2"/><circle cx="1639.3" cy="424" r="9.2"/><circle cx="1682.8" cy="418.6" r="9.2"/><circle cx="1733.4" cy="411.8" r="9.2"/><circle cx="1778.4" cy="404.6" r="9.2"/><circle cx="1810" cy="398.3" r="9.2"/><circle cx="1835" cy="390.9" r="9.2"/><circle cx="1854.3" cy="383.5" r="9.2"/><circle cx="1862" cy="377.6" r="9.2"/><circle cx="1866.2" cy="374.1" r="9.2"/><circle cx="1870.3" cy="370.6" r="9.2"/><circle cx="1876" cy="363.8" r="9.2"/><circle cx="1880.6" cy="357.7" r="9.2"/><circle cx="1885" cy="350" r="9.2"/><circle cx="1890" cy="343.1" r="9.2"/><circle cx="1894.7" cy="337.5" r="9.2"/><circle cx="1899.3" cy="331.8" r="9.2"/><circle cx="1912.4" cy="322.2" r="9.2"/><circle cx="1921.8" cy="317.2" r="9.2"/><circle cx="1936.8" cy="310.8" r="9.2"/><circle cx="1951.8" cy="303.5" r="9.2"/><circle cx="1968.6" cy="294.7" r="9.2"/><circle cx="1987.3" cy="285.3" r="9.2"/><circle cx="2003.4" cy="276.7" r="9.2"/><circle cx="2016.3" cy="271.1" r="9.2"/><circle cx="2030" cy="264.2" r="9.2"/><circle cx="2042.9" cy="254.5" r="9.2"/><circle cx="2048.6" cy="250" r="9.2"/><circle cx="2054.2" cy="245.4" r="9.2"/><circle cx="2059.4" cy="239.5" r="9.2"/><circle cx="2064.7" cy="233.6" r="9.2"/><circle cx="2069.6" cy="227.4" r="9.2"/><circle cx="2074.4" cy="221.1" r="9.2"/><circle cx="2079.2" cy="214.1" r="9.2"/><circle cx="2084" cy="207.2" r="9.2"/><circle cx="2088.1" cy="200.2" r="9.2"/><circle cx="2092.1" cy="193.3" r="9.2"/><circle cx="2095.3" cy="186.3" r="9.2"/><circle cx="2098.5" cy="179.3" r="9.2"/><circle cx="2100.5" cy="172.7" r="9.2"/><circle cx="2102.5" cy="166.1" r="9.2"/><circle cx="2104.5" cy="159.5" r="9.2"/><circle cx="2106.6" cy="151.8" r="9.2"/><circle cx="2108.7" cy="144.2" r="9.2"/><circle cx="2110.8" cy="136.6" r="9.2"/><circle cx="2113.1" cy="129.7" r="9.2"/><circle cx="2115.5" cy="122.8" r="9.2"/><circle cx="2117.8" cy="115.9" r="9.2"/><circle cx="2120.1" cy="109.9" r="9.2"/><circle cx="2122.5" cy="103.8" r="9.2"/><circle cx="2124.8" cy="97.8" r="9.2"/><circle cx="2128.3" cy="89.9" r="9.2"/><circle cx="2131.8" cy="82" r="9.2"/><circle cx="2135.4" cy="74.7" r="9.2"/><circle cx="2138.9" cy="67.5" r="9.2"/><circle cx="2143.1" cy="63.2" r="9.2"/><circle cx="2147.3" cy="59" r="9.2"/><circle cx="2157.1" cy="55.3" r="9.2"/></g>
<polyline points="363,493.7 443.5,488.8 564.4,482.8 664.3,478.9 766,475 870,470.2 962.8,465.3 1066.8,460.5 1175,454.3 1267.7,448.3 1317.5,444.6 1379.3,437.9 1431.3,433.2 1474.8,427.6 1498.7,424.7 1540.9,419.1 1574.6,412.3 1602.7,407.5 1636.5,400.9 1663.2,395.3 1687,388.8 1711,382.8 1730.6,376.7 1748.9,370.2 1767.2,363.8 1782.6,356.6 1792.4,352.5 1806.5,345.2 1818.7,339.9 1830,330.2 1840.3,325.3 1849.6,320.5 1863.7,313.2 1883.4,307.6 1904.9,300.3 1924.6,294.7 1941.5,288.2 1954.6,281.7 1968.6,275.3 1978,268.1 1987.5,261.2 1994,255.6 2000.2,246.6 2005,239.7 2010.6,232.2 2015.5,225 2020,218.1 2024.5,211.4 2029,204.7 2033.2,197.8 2036.8,191.4 2040.2,184.9 2044,179.3 2048,172.8 2052.5,165.6 2055.3,159.1 2058,152.2 2061.2,145.7 2064.4,139 2067.5,131.6 2070.7,124.4 2073.5,117.1 2076.3,109.8 2079.5,103.2 2082.5,96.6 2086.2,91 2089.5,84.9 2093,79.7 2098.7,72.9 2103,66.4 2115.7,61.6 2129.8,55.4 2145,51.7 2162,48.4" fill="none" stroke="#ff0000" stroke-width="7.1" stroke-linejoin="round" stroke-linecap="round"/>
<g fill="#fff" stroke="#ff0000" stroke-width="1.5"><circle cx="2162" cy="48.4" r="8.5"/><circle cx="2145" cy="51.7" r="8.5"/><circle cx="2129.8" cy="55.4" r="8.5"/><circle cx="2115.7" cy="61.6" r="8.5"/><circle cx="2103" cy="66.4" r="8.5"/><circle cx="2098.7" cy="72.9" r="8.5"/><circle cx="2093" cy="79.7" r="8.5"/><circle cx="2089.5" cy="84.9" r="8.5"/><circle cx="2086.2" cy="91" r="8.5"/><circle cx="2082.5" cy="96.6" r="8.5"/><circle cx="2079.5" cy="103.2" r="8.5"/><circle cx="2076.3" cy="109.8" r="8.5"/><circle cx="2073.5" cy="117.1" r="8.5"/><circle cx="2070.7" cy="124.4" r="8.5"/><circle cx="2067.5" cy="131.6" r="8.5"/><circle cx="2064.4" cy="139" r="8.5"/><circle cx="2061.2" cy="145.7" r="8.5"/><circle cx="2058" cy="152.2" r="8.5"/><circle cx="2055.3" cy="159.1" r="8.5"/><circle cx="2052.5" cy="165.6" r="8.5"/><circle cx="2048" cy="172.8" r="8.5"/><circle cx="2044" cy="179.3" r="8.5"/><circle cx="2040.2" cy="184.9" r="8.5"/><circle cx="2036.8" cy="191.4" r="8.5"/><circle cx="2033.2" cy="197.8" r="8.5"/><circle cx="2029" cy="204.7" r="8.5"/><circle cx="2024.5" cy="211.4" r="8.5"/><circle cx="2020" cy="218.1" r="8.5"/><circle cx="2015.5" cy="225" r="8.5"/><circle cx="2010.6" cy="232.2" r="8.5"/><circle cx="2005" cy="239.7" r="8.5"/><circle cx="2000.2" cy="246.6" r="8.5"/><circle cx="1994" cy="255.6" r="8.5"/><circle cx="1987.5" cy="261.2" r="8.5"/><circle cx="1978" cy="268.1" r="8.5"/><circle cx="1968.6" cy="275.3" r="8.5"/><circle cx="1954.6" cy="281.7" r="8.5"/><circle cx="1941.5" cy="288.2" r="8.5"/><circle cx="1924.6" cy="294.7" r="8.5"/><circle cx="1904.9" cy="300.3" r="8.5"/><circle cx="1883.4" cy="307.6" r="8.5"/><circle cx="1863.7" cy="313.2" r="8.5"/><circle cx="1849.6" cy="320.5" r="8.5"/><circle cx="1840.3" cy="325.3" r="8.5"/><circle cx="1830" cy="330.2" r="8.5"/><circle cx="1818.7" cy="339.9" r="8.5"/><circle cx="1806.5" cy="345.2" r="8.5"/><circle cx="1792.4" cy="352.5" r="8.5"/><circle cx="1782.6" cy="356.6" r="8.5"/><circle cx="1767.2" cy="363.8" r="8.5"/><circle cx="1748.9" cy="370.2" r="8.5"/><circle cx="1730.6" cy="376.7" r="8.5"/><circle cx="1711" cy="382.8" r="8.5"/><circle cx="1687" cy="388.8" r="8.5"/><circle cx="1663.2" cy="395.3" r="8.5"/><circle cx="1636.5" cy="400.9" r="8.5"/><circle cx="1602.7" cy="407.5" r="8.5"/><circle cx="1574.6" cy="412.3" r="8.5"/><circle cx="1540.9" cy="419.1" r="8.5"/><circle cx="1498.7" cy="424.7" r="8.5"/><circle cx="1474.8" cy="427.6" r="8.5"/><circle cx="1431.3" cy="433.2" r="8.5"/><circle cx="1379.3" cy="437.9" r="8.5"/><circle cx="1317.5" cy="444.6" r="8.5"/><circle cx="1267.7" cy="448.3" r="8.5"/><circle cx="1175" cy="454.3" r="8.5"/><circle cx="1066.8" cy="460.5" r="8.5"/><circle cx="962.8" cy="465.3" r="8.5"/><circle cx="870" cy="470.2" r="8.5"/><circle cx="766" cy="475" r="8.5"/><circle cx="664.3" cy="478.9" r="8.5"/><circle cx="564.4" cy="482.8" r="8.5"/><circle cx="443.5" cy="488.8" r="8.5"/><circle cx="363" cy="493.7" r="8.5"/></g>
</g>
<rect x="146.5" y="36.3" width="2042" height="1504" fill="none" stroke="#000" stroke-width="6.5"/>
<path d="M159.6 1541V1571 M260.6 1541V1557 M361.6 1541V1571 M462.6 1541V1557 M563.6 1541V1571 M664.6 1541V1557 M765.6 1541V1571 M866.6 1541V1557 M967.6 1541V1571 M1068.6 1541V1557 M1169.6 1541V1571 M1270.6 1541V1557 M1371.6 1541V1571 M1472.6 1541V1557 M1573.6 1541V1571 M1674.6 1541V1557 M1775.6 1541V1571 M1876.6 1541V1557 M1977.6 1541V1571 M2078.6 1541V1557 M2179.6 1541V1571" stroke="#000" stroke-width="5.6" fill="none"/>
<g font-family="'Liberation Serif', serif" fill="#000"><text x="159.6" y="1643" font-size="78" text-anchor="middle" textLength="94.5" lengthAdjust="spacingAndGlyphs">0.0</text><text x="361.6" y="1643" font-size="78" text-anchor="middle" textLength="92.0" lengthAdjust="spacingAndGlyphs">0.1</text><text x="563.6" y="1643" font-size="78" text-anchor="middle" textLength="94.5" lengthAdjust="spacingAndGlyphs">0.2</text><text x="765.6" y="1643" font-size="78" text-anchor="middle" textLength="94.5" lengthAdjust="spacingAndGlyphs">0.3</text><text x="967.6" y="1643" font-size="78" text-anchor="middle" textLength="94.5" lengthAdjust="spacingAndGlyphs">0.4</text><text x="1169.6" y="1643" font-size="78" text-anchor="middle" textLength="94.5" lengthAdjust="spacingAndGlyphs">0.5</text><text x="1371.6" y="1643" font-size="78" text-anchor="middle" textLength="94.5" lengthAdjust="spacingAndGlyphs">0.6</text><text x="1573.6" y="1643" font-size="78" text-anchor="middle" textLength="94.5" lengthAdjust="spacingAndGlyphs">0.7</text><text x="1775.6" y="1643" font-size="78" text-anchor="middle" textLength="94.5" lengthAdjust="spacingAndGlyphs">0.8</text><text x="1977.6" y="1643" font-size="78" text-anchor="middle" textLength="94.5" lengthAdjust="spacingAndGlyphs">0.9</text><text x="2179.6" y="1643" font-size="78" text-anchor="middle" textLength="92.0" lengthAdjust="spacingAndGlyphs">1.0</text></g>
<g font-family="'Liberation Serif', serif" fill="#000"><text x="793.17" y="1775" font-size="76" textLength="725.81" lengthAdjust="spacingAndGlyphs">Relative pressure / p/p</text><text x="1516.49" y="1740.6" font-size="46" textLength="23.12" lengthAdjust="spacingAndGlyphs">0</text><text transform="translate(70.7 1226.2) rotate(-90)" x="-1.06" y="0" font-size="77" textLength="763.91" lengthAdjust="spacingAndGlyphs">Adsorbed amount / a.u.</text></g>
<g font-family="'Liberation Serif', serif" fill="#000"><text x="171.97" y="541.3" font-size="72" textLength="225.75" lengthAdjust="spacingAndGlyphs">Cu/SiO</text><text x="387.47" y="556.1" font-size="38" textLength="21.15" lengthAdjust="spacingAndGlyphs">2</text><text x="410.48" y="541.3" font-size="72" textLength="79.02" lengthAdjust="spacingAndGlyphs">-D</text><text x="166.08" y="697.3" font-size="72" textLength="224.72" lengthAdjust="spacingAndGlyphs">Cu/SiO</text><text x="387.12" y="706.4" font-size="38" textLength="21.66" lengthAdjust="spacingAndGlyphs">2</text><text x="173.8" y="1048" font-size="72" textLength="227.24" lengthAdjust="spacingAndGlyphs">Cu-SiO</text><text x="392.81" y="1057.8" font-size="38" textLength="19.89" lengthAdjust="spacingAndGlyphs">2</text><text x="416.12" y="1048" font-size="72" textLength="111.52" lengthAdjust="spacingAndGlyphs">-SG</text><text x="173.39" y="1325.7" font-size="72" textLength="116.68" lengthAdjust="spacingAndGlyphs">SiO</text><text x="282.54" y="1336.3" font-size="38" textLength="20.52" lengthAdjust="spacingAndGlyphs">2</text><text x="178.35" y="1477.8" font-size="72" textLength="115.49" lengthAdjust="spacingAndGlyphs">SiO</text><text x="287.87" y="1487.9" font-size="38" textLength="21.15" lengthAdjust="spacingAndGlyphs">2</text><text x="308.61" y="1477.8" font-size="72" textLength="78.26" lengthAdjust="spacingAndGlyphs">-D</text></g>
</svg>
</body></html>
